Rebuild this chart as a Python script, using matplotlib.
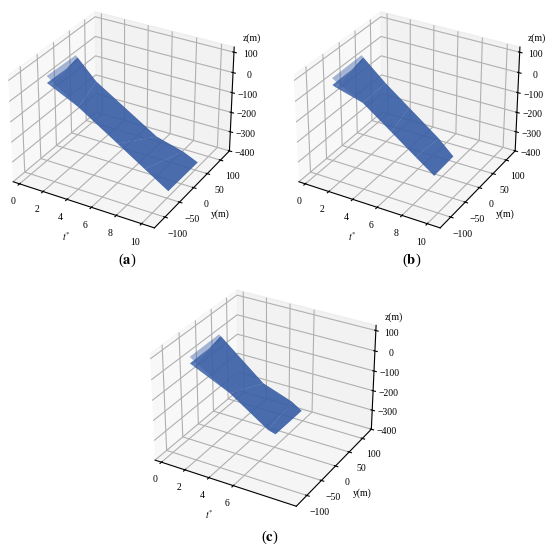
import numpy as np
import matplotlib
matplotlib.use("Agg")
import matplotlib.pyplot as plt

plt.rcParams["font.family"] = ["Liberation Serif", "DejaVu Serif"]
plt.rcParams["mathtext.fontset"] = "stix"

# jet outline: near and far edge of the top face, plus the
# drop down to the lower face on each edge
xa_near = [0, 0.3, 2.8, 6, 8.2, 10.1]
xa_far = [0, 0.15, 1.7, 6.8, 9.0, 10.2]
ya_near = [-43, -44, -50, -50, -50, -50]
ya_far = [49, 49, 50, 50, 50, 50]
za_near = [19, 9, -78, -202, -288, -362]
za_far = [13, 3, -94, -287, -324, -357]
drop_a = [34, 30, 0, 0, 0, 0]

xb_near = [0, 0.3, 2.7, 5, 7, 8.5]
xb_far = [0, 0.15, 2, 4, 6.5, 8.5]
yb_near = [-44, -45, -50, -50, -50, -50]
yb_far = [49, 49, 50, 50, 50, 16]
zb_near = [10, 1, -59, -161, -250, -316]
zb_far = [13, 3, -97, -188, -302, -311]
drop_b = [34, 30, 0, 0, 0, 0]

xc_near = [0, 0.3, 3.6, 6.7, 7.3]
xc_far = [0, 0.15, 3.83, 6.23, 7.05]
yc_near = [-40, -41, -50, -50, -50]
yc_far = [53, 53, 50, 50, 50]
zc_near = [3, -6, -103, -229, -239]
zc_far = [4, -3, -177, -229, -261]
drop_c = [32, 29, 0, 0, 0]

xticks_ab = [0, 2, 4, 6, 8, 10]
xticks_c = [0, 2, 4, 6]
yticks = [-100, -50, 0, 50, 100]
zticks = [-400, -300, -200, -100, 0, 100]

BLUE = "#3b60a6"


def px(fig, x, y, s, **kw):
    fig.text(x / 550, 1 - y / 549, s, ha="center", va="center", **kw)


def panel(fig, rect, xn, xf, yn, yf, zn, zf, drop, xticks):
    ax = fig.add_axes(rect, projection="3d")
    ax.patch.set_alpha(0)
    X = np.array([xn, xf], float)
    Y = np.array([yn, yf], float)
    Z = np.array([zn, zf], float)
    # lower face only drops on the near edge past the first station
    low = np.array([np.array(drop, float), [drop[0]] + [0] * (len(drop) - 1)])
    ax.plot_surface(X, Y, Z - low, color=BLUE, alpha=0.85, shade=False, linewidth=0, antialiased=True)
    ax.plot_surface(X, Y, Z, color=BLUE, alpha=0.45, shade=False, linewidth=0, antialiased=True)
    ax.set_xlim(-0.55, 11.0)
    ax.set_ylim(-135, 135)
    ax.set_zlim(-400, 125)
    ax.set_xticks(xticks)
    ax.set_yticks(yticks)
    ax.set_zticks(zticks)
    ax.tick_params(labelsize=7, pad=-1)
    ax.tick_params(axis="y", pad=0)
    ax.tick_params(axis="z", pad=-1)
    return ax


fig = plt.figure(figsize=(5.5, 5.49), dpi=100)
panel(fig, [-0.011, 0.556, 0.458, 0.458], xa_near, xa_far, ya_near, ya_far, za_near, za_far, drop_a, xticks_ab)
panel(fig, [0.5085, 0.556, 0.458, 0.458], xb_near, xb_far, yb_near, yb_far, zb_near, zb_far, drop_b, xticks_ab)
panel(fig, [0.247, 0.049, 0.458, 0.458], xc_near, xc_far, yc_near, yc_far, zc_near, zc_far, drop_c, xticks_c)

for zx, zy, yx, yy, tx, ty, cx, cy, cap in [
    (252, 38, 220, 214, 66.7, 236.7, 127, 260, r"($\mathbf{a}$)"),
    (536.7, 38, 505.7, 214, 352.3, 236.7, 412, 260, r"($\mathbf{b}$)"),
    (394, 317, 362.7, 492.7, 209.3, 515, 270, 537, r"($\mathbf{c}$)"),
]:
    px(fig, zx, zy, "z(m)", fontsize=7)
    px(fig, yx, yy, "y(m)", fontsize=7)
    px(fig, tx, ty, r"$t^{*}$", fontsize=7)
    px(fig, cx, cy, cap, fontsize=10.5)

fig.savefig("out.png", dpi=100)
